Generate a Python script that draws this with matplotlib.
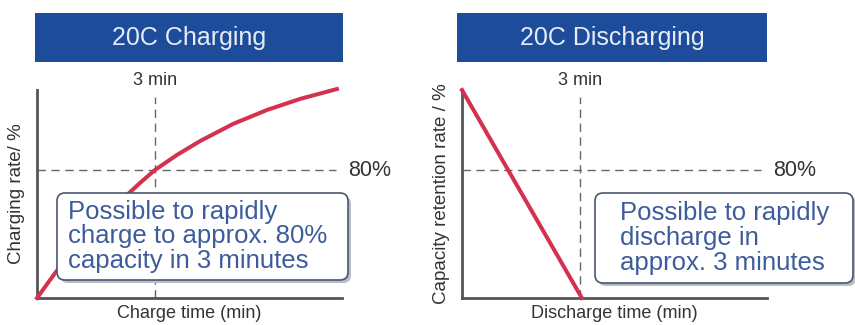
import matplotlib.pyplot as plt
from matplotlib.patches import FancyBboxPatch, Rectangle

plt.rcParams['font.family'] = ['Liberation Sans', 'DejaVu Sans']

# charging curve (time in min, charge in %)
charge_time = [0, 0.46, 1.0, 1.6, 2.29, 2.62, 3.0, 3.56, 4.15, 4.99, 5.85, 6.69, 7.63]
charge_rate = [0, 15.6, 32, 48, 64.4, 71.9, 80, 89.4, 98.1, 108.8, 117.5, 124.4, 130.6]

# discharging line
discharge_time = [0, 3.05]
discharge_rate = [130, 0]

mark_time = 3
mark_level = 80

titles = ['20C Charging', '20C Discharging']
ylabels = ['Charging rate/ %', 'Capacity retention rate / %']
xlabels = ['Charge time (min)', 'Discharge time (min)']
notes = ['Possible to rapidly\ncharge to approx. 80%\ncapacity in 3 minutes',
         'Possible to rapidly\ndischarge in\napprox. 3 minutes']

blue = '#1d4c9b'
red = '#d43150'
grey = '#555555'
note_col = '#3d5c9c'

fig = plt.figure(figsize=(8.55, 3.25), dpi=100)

ax_left = fig.add_axes([37/855, 27/325, 305/855, 208/325])
ax_right = fig.add_axes([462/855, 27/325, 305/855, 208/325])
axes = [ax_left, ax_right]

ax_left.plot(charge_time, charge_rate, color=red, lw=2.9, clip_on=False, zorder=3)
ax_right.plot(discharge_time, discharge_rate, color=red, lw=2.9, clip_on=False, zorder=3)

for i, ax in enumerate(axes):
    ax.set_xlim(0, 7.76)
    ax.set_ylim(0, 130)
    for s in ['top', 'right']:
        ax.spines[s].set_visible(False)
    for s in ['left', 'bottom']:
        ax.spines[s].set_color(grey)
        ax.spines[s].set_linewidth(2)
    ax.set_xticks([])
    ax.set_yticks([])
    ax.plot([mark_time, mark_time], [0, 125.6], color='#666666', lw=1,
            ls=(0, (6, 4)), zorder=2)
    ax.plot([0, 7.6], [mark_level, mark_level], color='#666666', lw=1,
            ls=(0, (6, 4)), zorder=2)
    ax.text(mark_time, 136, '3 min', ha='center', va='center', fontsize=13,
            color='#333333')
    ax.text(7.91, mark_level, '80%', ha='left', va='center', fontsize=15.5,
            color='#333333')
    ax.text(0.5, -0.075, xlabels[i], transform=ax.transAxes, ha='center',
            va='center', fontsize=13, color='#333333')
    ax.text(-0.066, 0.5, ylabels[i], transform=ax.transAxes, ha='center',
            va='center', rotation=90, fontsize=13.5, color='#333333')

# title bars (inches)
inch = fig.dpi_scale_trans
for x0, w, t in [(0.35, 3.08, titles[0]), (4.57, 3.10, titles[1])]:
    fig.add_artist(Rectangle((x0, 2.63), w, 0.49, transform=inch,
                             facecolor=blue, edgecolor='none'))
    fig.text(x0 + w/2, 2.87, t, transform=inch, ha='center', va='center',
             fontsize=18, color='#e6edf8')

# note boxes
for x0, y0, w, h, tx, note in [(0.57, 0.45, 2.91, 0.87, 0.68, notes[0]),
                                (5.95, 0.42, 2.58, 0.90, 6.20, notes[1])]:
    fig.add_artist(FancyBboxPatch((x0 + 0.03, y0 - 0.03), w, h,
                                  boxstyle='round,pad=0,rounding_size=0.08',
                                  transform=inch, facecolor='#b8bcc6',
                                  edgecolor='none', zorder=4))
    fig.add_artist(FancyBboxPatch((x0, y0), w, h,
                                  boxstyle='round,pad=0,rounding_size=0.08',
                                  transform=inch, facecolor='white',
                                  edgecolor='#4a5670', lw=1.2, zorder=5))
    fig.text(tx, y0 + h/2, note, transform=inch, ha='left', va='center',
             fontsize=18.5, color=note_col, linespacing=1.05, zorder=6)

fig.savefig('out.png', dpi=100)
